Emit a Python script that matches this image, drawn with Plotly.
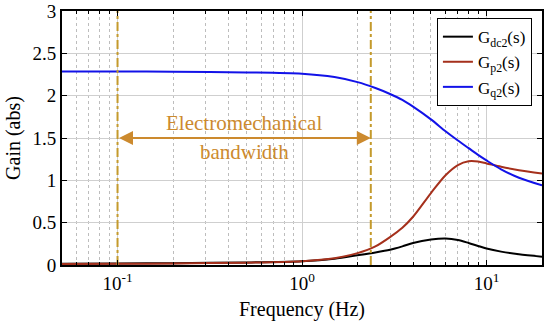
import numpy as np
import plotly.graph_objects as go

freq = [0.05, 0.1, 0.2, 0.5, 1, 1.5, 2, 2.5, 3, 3.5, 4, 5, 6, 7, 8, 9, 10, 12, 15, 20]
g_dc2 = [0.015, 0.018, 0.022, 0.03, 0.045, 0.075, 0.115, 0.148, 0.18, 0.22, 0.26, 0.30, 0.312, 0.295, 0.26, 0.225, 0.195, 0.158, 0.126, 0.098]
g_p2 = [0.012, 0.014, 0.018, 0.028, 0.045, 0.08, 0.14, 0.22, 0.33, 0.44, 0.57, 0.85, 1.06, 1.18, 1.225, 1.222, 1.20, 1.16, 1.12, 1.08]
g_q2 = [2.285, 2.285, 2.283, 2.275, 2.26, 2.22, 2.16, 2.09, 2.02, 1.95, 1.87, 1.72, 1.58, 1.47, 1.38, 1.30, 1.235, 1.13, 1.03, 0.94]

series_names = ["G<sub>dc2</sub>(s)", "G<sub>p2</sub>(s)", "G<sub>q2</sub>(s)"]
series_colors = ["#000000", "#A5301C", "#1212E8"]

bw_low, bw_high = 0.1, 2.36
arrow_y = 1.5
annot_lines = ["Electromechanical", "bandwidth"]

x_major = [0.1, 1, 10]
x_major_text = ["10<sup>-1</sup>", "10<sup>0</sup>", "10<sup>1</sup>"]
y_ticks = [0, 0.5, 1, 1.5, 2, 2.5, 3]
y_ticktext = ["0", "0.5", "1", "1.5", "2", "2.5", "3"]

x_minor = [m * 10.0 ** e for e in (-2, -1, 0, 1) for m in range(2, 10)]
x_minor = [v for v in x_minor if 0.05 <= v <= 20]

FONT = "Times New Roman"
gold = "#C49A2C"
orange = "#CC8A2E"

fig = go.Figure()
for name, vals, col in zip(series_names, [g_dc2, g_p2, g_q2], series_colors):
    fig.add_trace(go.Scatter(x=freq, y=vals, mode="lines", name=name,
                             line=dict(color=col, width=2, shape="spline", smoothing=0.8)))

for xb in (bw_low, bw_high):
    fig.add_trace(go.Scatter(x=[xb, xb], y=[0, 3], mode="lines", showlegend=False,
                             line=dict(color=gold, width=2, dash="dashdot")))

fig.add_annotation(x=np.log10(bw_high), y=arrow_y, ax=np.log10(bw_low), ay=arrow_y,
                   xref="x", yref="y", axref="x", ayref="y", text="",
                   showarrow=True, arrowside="end+start", arrowhead=2, arrowsize=1.4,
                   arrowwidth=2, arrowcolor=orange)
mid = (np.log10(bw_low) + np.log10(bw_high)) / 2
fig.add_annotation(x=mid, y=arrow_y, xref="x", yref="y", text=annot_lines[0],
                   showarrow=False, yshift=15, font=dict(family=FONT, size=21, color=orange))
fig.add_annotation(x=mid, y=arrow_y, xref="x", yref="y", text=annot_lines[1],
                   showarrow=False, yshift=-14, font=dict(family=FONT, size=21, color=orange))

fig.update_layout(
    width=550, height=321,
    margin=dict(l=62, r=8, t=11, b=56),
    paper_bgcolor="white", plot_bgcolor="white",
    font=dict(family=FONT, size=18, color="black"),
    legend=dict(x=0.979, y=0.972, xanchor="right", yanchor="top",
                bgcolor="white", bordercolor="black", borderwidth=1,
                font=dict(family=FONT, size=17), tracegroupgap=0),
    showlegend=True,
)
fig.update_xaxes(
    type="log", range=[np.log10(0.05), np.log10(20)],
    tickmode="array", tickvals=x_major, ticktext=x_major_text,
    tickfont=dict(family=FONT, size=19),
    ticks="inside", ticklen=5, tickcolor="black", tickwidth=1,
    showline=True, linecolor="black", linewidth=2, mirror="ticks",
    showgrid=True, gridcolor="#CFCFCF", gridwidth=1,
    minor=dict(tickmode="array", tickvals=x_minor, ticks="inside", ticklen=3,
               tickcolor="black", showgrid=True, gridcolor="#BDBDBD", griddash="dot", gridwidth=1),
    title=dict(text="Frequency (Hz)", font=dict(family=FONT, size=20), standoff=9),
    zeroline=False, automargin=False,
)
fig.update_yaxes(
    range=[0, 3], tickmode="array", tickvals=y_ticks, ticktext=y_ticktext,
    tickfont=dict(family=FONT, size=19),
    ticks="inside", ticklen=5, tickcolor="black",
    showline=True, linecolor="black", linewidth=2, mirror="ticks",
    showgrid=True, gridcolor="#CFCFCF", gridwidth=1,
    title=dict(text="Gain (abs)", font=dict(family=FONT, size=20), standoff=6),
    zeroline=False, automargin=False,
)

fig.write_html("out.html", config={"displayModeBar": False},
               post_script="document.body.style.margin='0';")
